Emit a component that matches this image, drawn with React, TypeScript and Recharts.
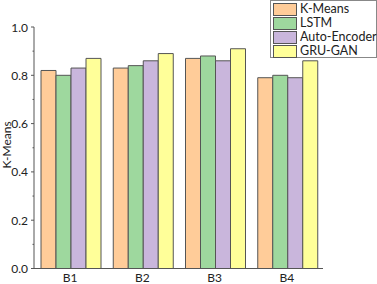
import React from 'react';
import { BarChart, Bar, XAxis, YAxis } from 'recharts';

const categories = ['B1', 'B2', 'B3', 'B4'];
const kMeans = [0.82, 0.83, 0.87, 0.79];
const lstm = [0.8, 0.84, 0.88, 0.8];
const autoEncoder = [0.83, 0.86, 0.86, 0.79];
const gruGan = [0.87, 0.89, 0.91, 0.86];
const yTicks = [0, 0.1, 0.2, 0.3, 0.4, 0.5, 0.6, 0.7, 0.8, 0.9, 1.0];

const seriesList = [
  { key: 'kMeans', name: 'K-Means', color: '#FFCC99' },
  { key: 'lstm', name: 'LSTM', color: '#9ED89E' },
  { key: 'autoEncoder', name: 'Auto-Encoder', color: '#C9B6DC' },
  { key: 'gruGan', name: 'GRU-GAN', color: '#FFFF99' },
];

const data = categories.map((c, i) => ({
  name: c,
  kMeans: kMeans[i],
  lstm: lstm[i],
  autoEncoder: autoEncoder[i],
  gruGan: gruGan[i],
}));

const FONT = 'Lato, "Open Sans", sans-serif';
const AXIS = '#555';

// y ticks: labels on the even ones, little marks on the odd ones
function YTick(props: any) {
  const { x, y, payload } = props;
  const v = payload.value;
  const major = Math.round(v * 10) % 2 === 0;
  return (
    <g>
      <line x1={x} x2={x - (major ? 3 : 1.5)} y1={y} y2={y} stroke={AXIS} />
      {major && (
        <text x={x - 6} y={y} textAnchor="end" dominantBaseline="central" fontSize={12} fill="#222" fontFamily={FONT}>
          {v.toFixed(1)}
        </text>
      )}
    </g>
  );
}

function LegendBox() {
  return (
    <div
      style={{
        position: 'absolute', left: 270, top: 0, width: 107, height: 58, boxSizing: 'border-box',
        border: '1px solid #888', background: '#fff', padding: '1px 0 0 2px',
      }}
    >
      {seriesList.map(s => (
        <div key={s.key} style={{ display: 'flex', alignItems: 'center', height: 14, whiteSpace: 'nowrap' }}>
          <span style={{ width: 22, height: 11, background: s.color, border: `1px solid ${AXIS}`, marginRight: 3, flexShrink: 0 }} />
          <span style={{ fontFamily: FONT, fontSize: 12.5, color: '#222', lineHeight: '14px' }}>{s.name}</span>
        </div>
      ))}
    </div>
  );
}

export default function App() {
  return (
    <div style={{ position: 'absolute', left: 0, top: 0, width: 377, height: 284, background: '#fff' }}>
      <BarChart
        width={377}
        height={284}
        data={data}
        margin={{ top: 27, right: 54, bottom: 0, left: 0 }}
        barCategoryGap={7}
        barGap={0}
      >
        <XAxis
          dataKey="name"
          height={15.5}
          axisLine={{ stroke: AXIS }}
          tickLine={false}
          tickSize={0}
          tickMargin={5}
          tick={{ fontSize: 12, fill: '#222', fontFamily: FONT }}
        />
        <YAxis
          width={34}
          domain={[0, 1]}
          ticks={yTicks}
          interval={0}
          axisLine={{ stroke: AXIS }}
          tickLine={false}
          tickSize={0}
          tickMargin={0}
          tick={<YTick />}
          label={{
            content: () => (
              <text x={6} y={145} transform="rotate(-90 6 145)" textAnchor="middle" dominantBaseline="central" fontSize={12} fill="#222" fontFamily={FONT}>
                K-Means
              </text>
            ),
          }}
        />
        {seriesList.map(s => (
          <Bar key={s.key} dataKey={s.key} name={s.name} fill={s.color} stroke={AXIS} strokeWidth={1} isAnimationActive={false} />
        ))}
      </BarChart>
      <LegendBox />
    </div>
  );
}
